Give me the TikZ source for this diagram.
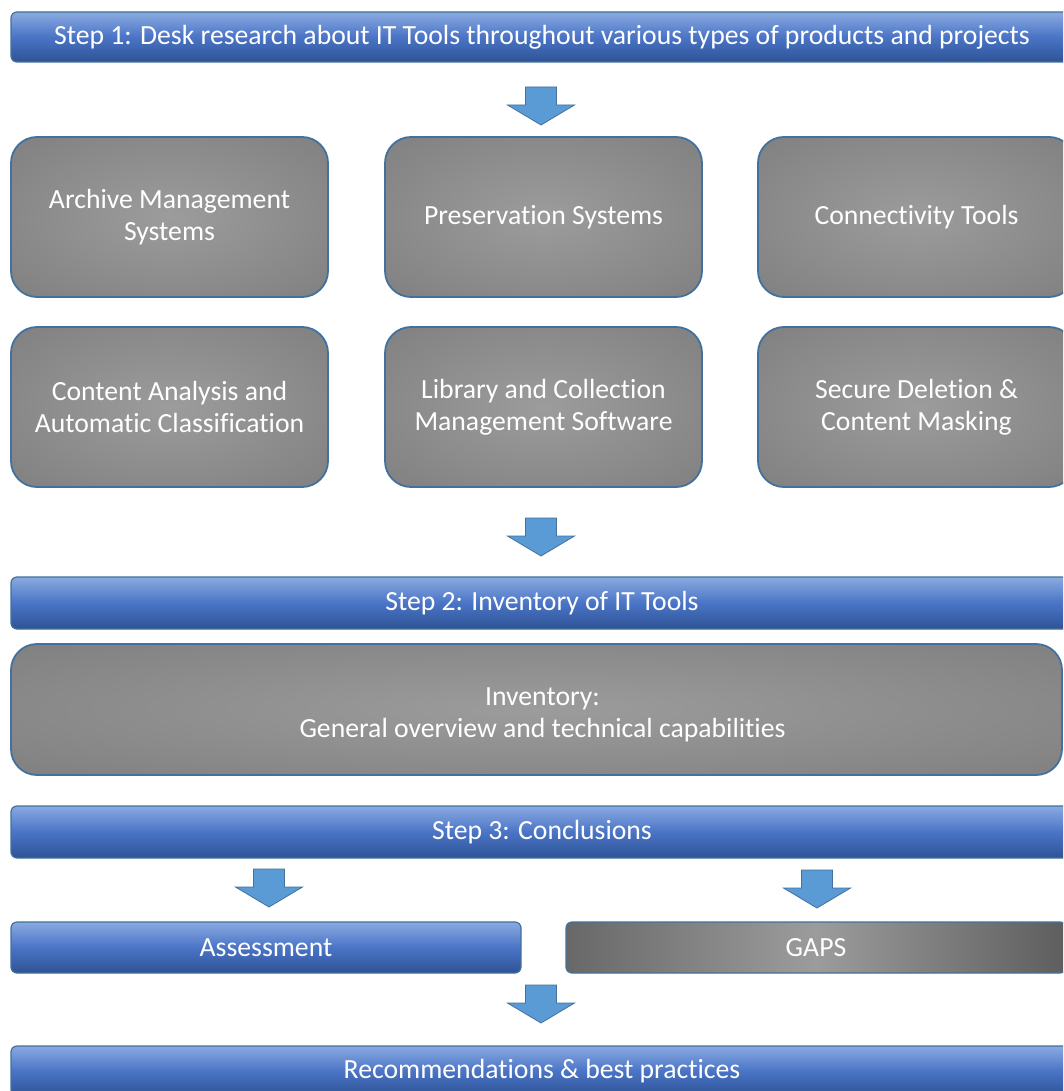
\documentclass[tikz,border=0pt]{standalone}
\usepackage{fontspec}
\setmainfont{Carlito}[RawFeature={-liga}]
\definecolor{barTop}{HTML}{8AAAE0}
\definecolor{barMid}{HTML}{4A74C6}
\definecolor{barBot}{HTML}{2E5395}
\definecolor{edgeBlue}{HTML}{41719C}
\definecolor{grayIn}{HTML}{9C9C9C}
\definecolor{grayEdge}{HTML}{757575}
\definecolor{grayOut}{HTML}{686868}
\definecolor{arrowFill}{HTML}{5B9BD5}
\pgfdeclareradialshading{grayrad}{\pgfpoint{0bp}{0bp}}{%
  color(0bp)=(grayIn); color(50bp)=(grayEdge); color(71bp)=(grayOut)}
\begin{document}
\begin{tikzpicture}[x=1pt,y=-1pt,
  txt/.style={text=white, inner sep=0pt, align=center, font=\fontsize{27.7}{32}\selectfont},
  bar/.style={txt, draw=edgeBlue, line width=1.2pt, rounded corners=6pt,
    top color=barTop, bottom color=barBot, middle color=barMid},
  grayshade/.style={txt, draw=edgeBlue, line width=1.8pt, rounded corners=26pt,
    shading=grayrad},
  graybox/.style={grayshade, minimum width=317pt, minimum height=160pt},
  blockarrow/.style={fill=arrowFill, draw=edgeBlue, line width=0.8pt, line join=miter},
  pics/downarrow/.style={code={
    \draw[blockarrow] (-15.5,0) -- (15.5,0) -- (15.5,18) -- (33.5,18) -- (0,38)
      -- (-33.5,18) -- (-15.5,18) -- cycle;}}
]
\useasboundingbox (0,0) rectangle (1063,1091);
\fill[white] (0,0) rectangle (1063,1091);
\clip (0,0) rectangle (1063,1091);

% Step 1
\node[bar, minimum width=1062pt, minimum height=50pt] (step1) at (542,37)
  {Step 1: Desk research about IT Tools throughout various types of products and projects};
\pic at (541,87) {downarrow};

% tool categories
\node[graybox] (ams) at (169.5,217) {Archive Management\\Systems};
\node[graybox] (ps)  at (543.5,217) {Preservation Systems};
\node[graybox] (ct)  at (916.5,217) {Connectivity Tools};
\node[graybox] (ca)  at (169.5,407) {Content Analysis and\\Automatic Classification};
\node[graybox] (lc)  at (543.5,407) {Library and Collection\\Management Software};
\node[graybox] (sd)  at (916.5,407) {Secure Deletion \&\\Content Masking};
\pic at (541,518) {downarrow};

% Step 2
\node[bar, minimum width=1062pt, minimum height=52pt] (step2) at (542,603)
  {Step 2: Inventory of IT Tools};
\node[grayshade, minimum width=1051pt, minimum height=131pt] (inv) at (536.5,709.5) {};
\node[txt] (invtext) at ([xshift=6pt,yshift=-5pt]inv.center)
  {Inventory:\\General overview and technical capabilities};

% Step 3
\node[bar, minimum width=1062pt, minimum height=52pt] (step3) at (542,832)
  {Step 3: Conclusions};
\pic at (269,869) {downarrow};
\pic at (817,870) {downarrow};

\node[bar, minimum width=510pt, minimum height=51pt] (assess) at (266,947.5) {Assessment};
\node[txt, draw=edgeBlue, line width=1.2pt, rounded corners=6pt,
  left color=grayOut, right color=grayOut!90!black, middle color=grayIn,
  minimum width=500pt, minimum height=51pt] (gaps) at (816,947.5) {GAPS};
\pic at (541,985) {downarrow};

% Recommendations
\node[bar, minimum width=1062pt, minimum height=50pt] (rec) at (542,1071)
  {Recommendations \& best practices};
\end{tikzpicture}
\end{document}
